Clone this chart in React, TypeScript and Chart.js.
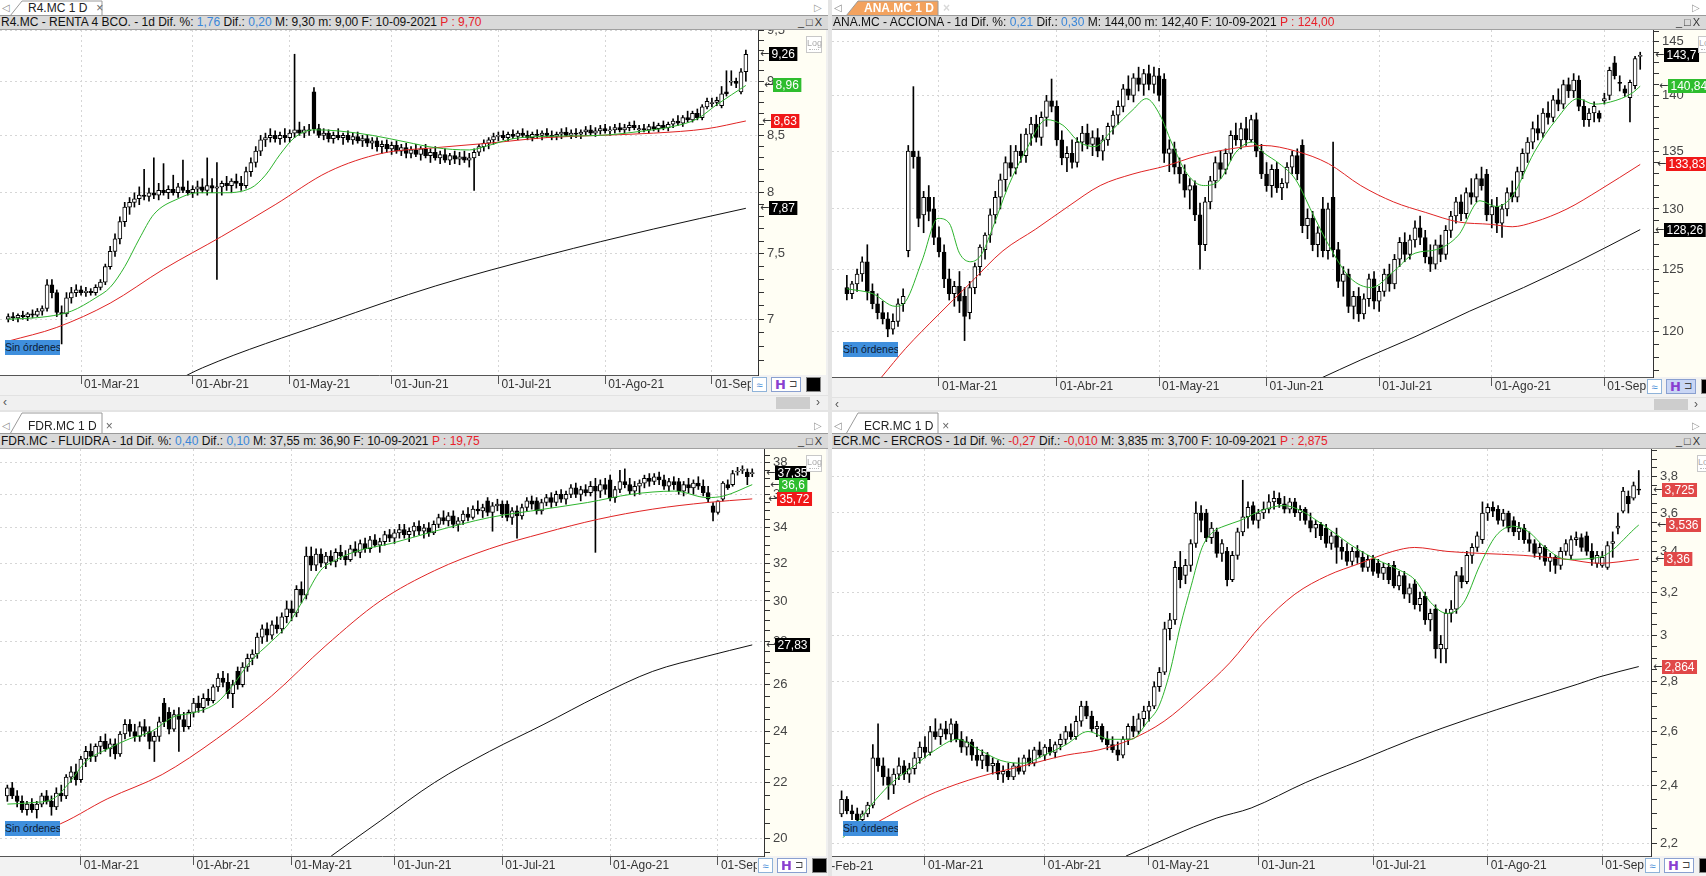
import React, { useEffect, useRef } from "react";
import { Chart, registerables } from "chart.js";
Chart.register(...registerables);

const FONT = '"Liberation Sans", Arial, sans-serif';

// ---------- axis labels ----------
const monthLabels = ["01-Mar-21", "01-Abr-21", "01-May-21", "01-Jun-21", "01-Jul-21", "01-Ago-21", "01-Sep-21"];
const leftMonthIdx = [15, 38, 58, 79, 101, 123, 145];
const anaMonthIdx = [18, 41, 61, 82, 104, 126, 148];
const ecrMonthIdx = [16, 39, 59, 80, 102, 124, 146];

// ---------- R4.MC candles [open, high, low, close] ----------
const r4Candles = [
  [7.00,7.04,6.98,7.02],[7.02,7.05,6.99,7.01],[7.01,7.04,6.98,7.03],[7.03,7.06,7.00,7.02],[7.02,7.05,6.99,7.04],
  [7.04,7.07,7.01,7.03],[7.03,7.08,7.02,7.06],[7.06,7.10,7.03,7.08],[7.08,7.30,7.06,7.26],[7.26,7.30,7.16,7.20],
  [7.20,7.22,7.02,7.05],[7.05,7.10,6.82,7.04],[7.04,7.20,7.02,7.16],[7.16,7.24,7.12,7.20],[7.20,7.26,7.17,7.22],
  [7.22,7.25,7.18,7.20],[7.20,7.24,7.17,7.21],[7.21,7.23,7.18,7.20],[7.20,7.26,7.18,7.24],[7.24,7.30,7.22,7.28],
  [7.28,7.42,7.26,7.40],[7.40,7.56,7.38,7.52],[7.52,7.66,7.48,7.62],[7.62,7.80,7.58,7.76],[7.76,7.92,7.72,7.88],
  [7.88,7.96,7.82,7.92],[7.92,8.00,7.88,7.95],[7.95,8.05,7.90,7.98],[7.98,8.20,7.94,7.97],[7.97,8.04,7.93,8.00],
  [8.00,8.30,7.95,7.98],[7.98,8.08,7.94,8.02],[8.02,8.25,7.98,8.00],[8.00,8.06,7.95,8.03],[8.03,8.15,7.98,8.00],
  [8.00,8.08,7.96,8.05],[8.05,8.28,8.00,8.02],[8.02,8.10,7.98,8.00],[8.00,8.06,7.96,8.03],[8.03,8.10,7.98,8.05],
  [8.05,8.12,8.00,8.02],[8.02,8.30,7.98,8.06],[8.06,8.12,8.00,8.04],[8.04,8.26,7.30,8.05],[8.05,8.10,7.98,8.08],
  [8.08,8.14,8.02,8.06],[8.06,8.12,8.00,8.10],[8.10,8.16,8.04,8.08],[8.08,8.14,8.02,8.06],[8.06,8.22,8.04,8.18],
  [8.18,8.30,8.14,8.26],[8.26,8.40,8.22,8.36],[8.36,8.50,8.32,8.46],[8.46,8.52,8.40,8.48],[8.48,8.56,8.44,8.50],
  [8.50,8.54,8.44,8.47],[8.47,8.53,8.42,8.50],[8.50,8.56,8.44,8.48],[8.48,8.55,8.44,8.52],[8.52,9.26,8.48,8.55],
  [8.55,8.62,8.50,8.52],[8.52,8.58,8.48,8.55],[8.55,8.60,8.50,8.54],[8.90,8.94,8.52,8.56],[8.56,8.60,8.48,8.50],
  [8.50,8.56,8.46,8.52],[8.52,8.55,8.44,8.47],[8.47,8.53,8.43,8.50],[8.50,8.56,8.46,8.48],[8.48,8.52,8.42,8.50],
  [8.50,8.54,8.44,8.46],[8.46,8.52,8.42,8.49],[8.49,8.53,8.43,8.45],[8.45,8.50,8.40,8.47],[8.47,8.50,8.40,8.43],
  [8.43,8.48,8.38,8.45],[8.45,8.48,8.36,8.40],[8.40,8.45,8.34,8.42],[8.42,8.46,8.35,8.38],[8.38,8.44,8.33,8.41],
  [8.41,8.45,8.34,8.36],[8.36,8.42,8.32,8.39],[8.39,8.43,8.30,8.34],[8.34,8.40,8.30,8.37],[8.37,8.42,8.31,8.33],
  [8.33,8.40,8.28,8.38],[8.38,8.42,8.30,8.32],[8.32,8.38,8.26,8.35],[8.35,8.40,8.28,8.30],[8.30,8.36,8.25,8.33],
  [8.33,8.38,8.26,8.28],[8.28,8.34,8.24,8.32],[8.32,8.36,8.25,8.29],[8.29,8.35,8.24,8.31],[8.31,8.36,8.26,8.28],
  [8.28,8.34,8.22,8.30],[8.30,8.38,8.02,8.35],[8.35,8.42,8.32,8.40],[8.40,8.46,8.36,8.43],[8.43,8.48,8.38,8.46],
  [8.46,8.52,8.42,8.49],[8.49,8.53,8.45,8.50],[8.50,8.54,8.46,8.48],[8.48,8.53,8.45,8.51],[8.51,8.55,8.47,8.49],
  [8.49,8.54,8.46,8.52],[8.52,8.56,8.48,8.50],[8.50,8.54,8.46,8.48],[8.48,8.53,8.45,8.51],[8.51,8.55,8.47,8.50],
  [8.50,8.54,8.46,8.52],[8.52,8.56,8.48,8.50],[8.50,8.54,8.46,8.49],[8.49,8.53,8.46,8.51],[8.51,8.56,8.47,8.53],
  [8.53,8.57,8.49,8.50],[8.50,8.55,8.47,8.52],[8.52,8.56,8.48,8.51],[8.51,8.55,8.47,8.53],[8.53,8.58,8.50,8.55],
  [8.55,8.59,8.50,8.52],[8.52,8.57,8.49,8.54],[8.54,8.59,8.51,8.56],[8.56,8.60,8.52,8.54],[8.54,8.58,8.50,8.55],
  [8.55,8.60,8.52,8.57],[8.57,8.61,8.53,8.55],[8.55,8.60,8.52,8.57],[8.57,8.62,8.54,8.59],[8.59,8.63,8.55,8.57],
  [8.55,8.59,8.52,8.56],[8.56,8.60,8.53,8.55],[8.55,8.60,8.52,8.58],[8.58,8.62,8.54,8.56],[8.56,8.61,8.53,8.59],
  [8.59,8.63,8.55,8.57],[8.57,8.62,8.54,8.60],[8.60,8.65,8.57,8.63],[8.63,8.68,8.59,8.61],[8.61,8.68,8.58,8.66],
  [8.66,8.72,8.62,8.64],[8.64,8.72,8.62,8.70],[8.70,8.74,8.64,8.66],[8.66,8.78,8.64,8.76],[8.76,8.84,8.74,8.81],
  [8.79,8.84,8.76,8.80],[8.80,8.85,8.77,8.82],[8.77,8.95,8.75,8.88],[8.90,9.10,8.86,8.88],[8.99,9.10,8.96,9.00],
  [9.00,9.03,8.94,8.98],[8.90,9.12,8.88,9.09],[9.09,9.30,9.00,9.26],
];
const r4Green = [[0,7.0],[8,7.02],[13,7.06],[18,7.16],[21,7.24],[24,7.4],[27,7.62],[30,7.82],[35,7.95],[39,8.0],[44,8.0],[50,8.04],[53,8.15],[56,8.33],[59,8.48],[63,8.55],[68,8.54],[75,8.5],[82,8.44],[88,8.39],[95,8.37],[99,8.41],[104,8.47],[110,8.49],[122,8.5],[131,8.54],[137,8.58],[142,8.65],[146,8.78],[152,8.96]];
const r4Red = [[0,6.84],[10,6.94],[21,7.12],[32,7.38],[44,7.64],[55,7.9],[66,8.18],[77,8.34],[88,8.39],[99,8.43],[111,8.48],[122,8.5],[133,8.52],[144,8.56],[152,8.63]];
const r4Black = [[34,6.55],[40,6.65],[66,6.98],[88,7.25],[111,7.49],[133,7.7],[152,7.87]];

// ---------- ANA.MC ----------
const anaCandles = [
  [123.5,124.5,122.5,123.0],[123.0,124.0,122.6,123.8],[123.8,125.0,123.2,124.6],[124.6,126.0,124.0,125.6],[125.6,127.0,122.5,123.2],
  [123.2,123.8,121.8,122.2],[122.2,123.0,121.0,121.5],[121.5,122.4,120.6,121.0],[121.0,121.5,119.6,120.2],[120.2,121.4,119.8,120.8],
  [120.8,122.6,120.4,122.2],[122.2,123.4,121.6,122.8],[126.5,135.5,126.0,135.0],[135.0,140.8,133.5,134.5],[134.5,135.0,128.5,129.2],
  [129.5,131.5,128.0,131.0],[131.0,132.0,129.0,129.8],[130.0,131.0,127.0,127.6],[127.6,128.5,126.0,126.4],[126.4,127.0,123.5,124.2],
  [124.2,125.0,122.5,123.0],[123.0,124.0,122.0,123.6],[123.6,124.8,121.5,122.4],[122.8,123.5,119.3,121.2],[121.5,124.0,121.0,123.5],
  [123.5,125.5,123.0,125.2],[125.2,127.0,124.5,126.8],[126.6,128.0,125.8,127.8],[127.8,130.0,127.2,129.5],[129.5,131.5,128.8,131.0],
  [131.0,133.0,130.0,132.5],[132.5,134.5,131.5,134.0],[134.0,135.5,132.8,133.5],[133.5,135.5,133.0,135.0],[135.0,136.5,134.0,134.6],
  [134.6,137.0,134.0,136.5],[136.5,138.0,135.5,137.4],[137.4,138.2,135.8,136.2],[136.2,138.5,135.5,138.0],[138.0,140.0,137.2,139.5],
  [139.5,141.5,138.5,139.0],[139.0,139.5,135.5,136.0],[136.0,136.8,133.8,134.4],[134.4,135.4,133.2,134.8],[134.8,136.0,133.5,134.0],
  [134.0,136.2,133.6,135.8],[135.8,137.2,135.0,136.6],[136.6,137.4,135.2,135.6],[135.6,136.8,134.6,136.2],[136.2,137.0,134.5,135.0],
  [135.0,136.4,134.2,136.0],[136.0,137.5,135.5,137.2],[137.2,138.6,136.5,138.2],[138.2,139.5,137.4,139.0],[139.0,141.0,138.5,140.6],
  [140.6,141.8,139.6,140.0],[140.0,142.0,139.4,141.6],[141.6,142.6,140.4,141.0],[141.0,142.4,140.0,142.0],[142.0,142.8,140.5,141.0],
  [141.0,142.6,140.2,141.8],[141.8,142.5,139.5,140.0],[141.5,142.0,134.0,134.8],[134.8,136.0,133.2,135.2],[135.2,135.8,133.0,133.6],
  [133.6,134.4,132.2,133.0],[133.0,133.8,131.0,131.6],[131.6,132.6,130.0,132.0],[132.0,132.4,129.0,129.5],[129.5,130.5,125.0,127.0],
  [127.0,131.0,126.5,130.6],[130.6,132.8,130.0,132.4],[132.4,134.5,131.8,134.0],[134.0,135.0,132.6,133.4],[133.4,135.2,133.0,134.8],
  [134.8,136.8,134.2,136.4],[136.4,137.5,135.5,136.0],[136.0,137.5,135.2,137.0],[137.0,138.0,135.5,136.0],[136.0,138.2,135.8,137.8],
  [137.8,138.4,134.5,135.0],[135.0,135.6,132.6,133.0],[133.0,134.0,131.5,132.0],[132.0,133.8,131.0,133.4],[133.4,134.0,131.4,131.8],
  [131.8,132.6,130.8,132.2],[132.2,134.0,131.8,133.6],[133.6,135.0,133.0,134.6],[134.6,135.2,132.5,133.0],[135.5,136.0,128.0,128.6],
  [128.6,130.0,127.5,129.2],[129.2,129.8,126.5,127.0],[127.0,128.5,126.0,128.0],[130.0,131.0,126.0,126.5],[126.5,130.5,125.8,130.0],
  [131.0,135.8,126.0,126.6],[126.6,127.2,123.5,124.0],[124.0,125.2,122.8,124.6],[124.6,125.0,121.5,122.0],[122.0,123.2,121.0,122.8],
  [122.8,123.5,120.8,121.4],[121.4,123.0,121.0,122.6],[122.6,124.6,122.0,124.2],[124.2,124.8,121.8,122.4],[122.4,123.6,121.6,123.2],
  [123.2,125.0,122.8,124.6],[124.6,125.4,123.2,123.8],[123.8,126.2,123.4,125.8],[125.8,127.6,125.2,127.2],[127.2,128.0,125.6,126.2],
  [126.2,127.8,125.8,127.4],[127.4,129.0,126.8,128.4],[128.4,129.4,127.0,127.6],[127.6,128.2,125.5,126.0],[126.0,127.0,124.8,125.4],
  [125.4,127.4,125.0,127.0],[127.0,127.8,125.6,126.2],[126.2,128.6,125.8,128.2],[128.2,129.8,127.6,129.4],[129.4,131.0,128.8,130.6],
  [130.6,131.2,129.0,129.6],[129.6,131.8,129.2,131.4],[131.4,132.6,130.4,131.0],[131.0,133.0,130.6,132.6],[132.6,133.6,131.6,132.0],
  [133.0,133.4,129.0,129.5],[129.5,130.8,128.4,130.2],[130.2,131.0,128.0,128.8],[128.8,130.4,127.6,130.0],[130.0,131.8,129.4,131.4],
  [131.4,132.4,130.6,131.0],[131.0,133.6,130.6,133.2],[133.2,135.2,132.6,134.8],[134.8,136.2,134.0,135.8],[135.8,137.6,135.2,137.0],
  [137.0,138.2,136.0,136.6],[136.6,138.8,136.2,138.4],[138.4,139.4,137.4,138.0],[138.0,140.0,137.6,139.6],[139.6,140.6,138.6,139.2],
  [139.2,141.4,138.8,141.0],[141.0,141.6,139.8,140.4],[140.4,142.0,139.8,141.4],[141.4,141.8,138.6,139.0],[139.0,139.6,137.2,137.8],
  [137.8,138.8,137.2,138.4],[138.4,139.4,137.6,139.0],[138.4,138.6,137.6,137.9],[139.5,140.2,139.2,139.7],[140.0,142.6,139.6,142.3],
  [143.0,143.6,141.5,141.8],[141.2,141.8,140.4,141.1],[140.6,140.9,139.9,140.2],[139.8,141.4,137.6,141.2],[140.9,143.6,140.6,143.4],
  [143.6,144.0,142.4,143.7],
];
const anaGreen = [[0,123.4],[5.1,123.0],[9.4,122.0],[11.5,122.4],[14.7,125.7],[17.8,129.2],[20,128.8],[22,126.3],[24.2,125.6],[26.3,126.2],[28.4,128.3],[31.6,132.0],[34.8,134.9],[39,137.8],[42.2,137.3],[45.4,135.8],[48.5,135.4],[51.7,136.8],[55.9,138.7],[58.5,139.7],[61.2,138.2],[63.4,135.8],[66.5,133.0],[69.7,132.0],[72.9,132.5],[76,134.9],[79.2,135.8],[81.3,134.9],[84.5,133.9],[87.7,132.5],[90.9,129.7],[94.1,127.0],[98.3,124.3],[102.5,123.5],[106.8,124.8],[111,126.3],[115.2,126.6],[119.5,127.8],[123.7,130.7],[126.9,130.2],[130,131.1],[134.3,134.9],[138.6,137.8],[142.8,139.7],[146,139.2],[149.2,139.4],[153.4,140.2],[155,140.84]];
const anaRed = [[6.8,116.5],[11.5,118.7],[17.8,121.3],[24.2,123.9],[30.5,126.5],[36.9,128.3],[43.2,130.2],[49.5,132.0],[55.9,133.0],[62.3,133.7],[68.6,134.6],[75,135.2],[81.3,135.5],[87.7,135.0],[94.1,133.9],[100.4,132.0],[106.8,130.6],[113.1,129.7],[119.5,128.9],[125.8,128.7],[130,128.5],[134.3,128.9],[140.7,130.0],[147,131.6],[155,133.83]];
const anaBlack = [[92,116.3],[100.4,117.8],[111,119.6],[121.6,121.6],[132.2,123.5],[142.8,125.6],[155,128.26]];

// ---------- FDR.MC ----------
const fdrCandles = [
  [21.5,21.9,21.3,21.8],[21.8,22.0,21.4,21.5],[21.5,21.7,21.1,21.3],[21.3,21.5,20.9,21.0],[21.0,21.3,20.8,21.2],
  [21.2,21.4,20.9,21.0],[21.0,21.3,20.7,21.2],[21.2,21.6,21.1,21.5],[21.5,21.7,21.2,21.3],[21.3,21.5,20.8,21.1],
  [21.1,21.8,21.0,21.6],[21.6,21.9,21.3,21.5],[21.5,22.3,21.4,22.2],[22.2,22.6,22.0,22.4],[22.4,22.7,21.9,22.1],
  [22.1,23.0,22.0,22.9],[22.9,23.4,22.6,23.2],[23.2,23.5,22.8,23.0],[23.0,23.5,22.8,23.4],[23.4,23.8,23.1,23.6],
  [23.6,23.9,23.2,23.3],[23.3,23.7,23.0,23.5],[23.5,23.7,22.9,23.1],[23.1,24.0,23.0,23.9],[23.9,24.5,23.7,24.3],
  [24.3,24.5,23.8,24.0],[24.0,24.3,23.6,23.8],[23.8,24.4,23.6,24.2],[24.2,24.5,23.8,24.0],[24.0,24.2,23.3,23.6],
  [23.6,24.0,22.8,23.8],[23.8,24.6,23.6,24.4],[25.2,25.4,24.2,24.4],[24.8,25.0,23.9,24.1],[24.1,24.9,24.0,24.7],
  [24.7,25.0,23.2,24.5],[24.5,24.8,24.0,24.2],[24.2,24.9,24.1,24.8],[24.8,25.4,24.6,25.2],[25.2,25.5,24.8,25.0],
  [25.0,25.6,24.8,25.4],[25.4,25.8,25.1,25.3],[25.3,26.0,25.2,25.9],[25.9,26.5,25.7,26.3],[26.3,26.6,25.9,26.1],
  [26.1,26.5,25.4,25.6],[25.6,26.2,25.0,26.0],[26.6,26.8,25.8,26.0],[26.0,27.0,25.9,26.8],[26.8,27.4,26.6,27.2],
  [27.2,27.6,26.9,27.4],[27.4,28.4,27.2,28.2],[28.2,28.8,27.9,28.6],[28.6,28.9,28.0,28.3],[28.3,29.0,28.1,28.8],
  [28.8,29.2,28.4,28.6],[28.6,29.4,28.4,29.2],[29.2,30.0,28.9,29.6],[29.6,30.0,29.0,29.4],[29.4,30.8,29.2,30.6],
  [30.6,31.0,29.9,30.3],[30.3,32.9,30.1,32.4],[32.4,32.9,31.6,31.9],[31.9,32.8,31.6,32.5],[32.5,32.8,31.8,32.0],
  [32.0,32.6,31.7,32.4],[32.4,32.7,31.9,32.1],[32.1,32.8,31.8,32.6],[32.6,33.0,32.2,32.4],[32.4,32.7,31.9,32.2],
  [32.2,33.0,32.1,32.8],[32.8,33.2,32.4,32.6],[32.6,33.3,32.3,33.1],[33.1,33.4,32.6,32.8],[32.8,33.5,32.6,33.3],
  [33.3,33.6,32.9,33.0],[33.0,33.4,32.6,33.2],[33.2,33.8,33.0,33.6],[33.6,33.9,33.2,33.4],[33.4,33.9,33.1,33.7],
  [33.7,34.2,33.4,33.9],[33.9,34.2,33.4,33.6],[33.6,34.0,33.2,33.8],[33.8,34.3,33.5,34.1],[34.1,34.4,33.6,33.8],
  [33.8,34.2,33.4,34.0],[34.0,34.3,33.5,33.7],[33.7,34.4,33.6,34.2],[34.2,34.8,34.0,34.6],[34.6,35.0,34.2,34.4],
  [34.4,34.9,34.1,34.7],[34.7,35.0,34.0,34.2],[34.2,34.6,33.8,34.4],[34.4,35.0,34.2,34.8],[34.8,35.2,34.4,34.6],
  [34.6,35.3,34.5,35.1],[35.1,35.6,34.8,35.0],[35.0,35.4,34.6,35.2],[35.6,35.8,34.7,34.9],[34.9,35.5,33.8,35.3],
  [35.3,35.7,35.0,35.4],[35.4,35.6,34.6,34.8],[35.4,35.6,34.4,34.6],[34.6,35.2,34.2,35.0],[35.0,35.3,33.4,34.7],
  [34.7,35.4,34.5,35.2],[35.2,35.8,35.0,35.6],[35.6,35.9,35.1,35.4],[35.6,35.8,34.8,35.0],[35.0,35.7,34.8,35.5],
  [35.5,36.0,35.3,35.8],[35.8,36.1,35.2,35.5],[35.5,36.2,35.3,36.0],[36.0,36.3,35.5,35.7],[35.7,36.2,35.4,36.0],
  [36.0,36.6,35.8,36.4],[36.4,36.7,35.8,36.0],[36.0,36.5,35.6,36.3],[36.3,36.6,35.9,36.1],[36.1,36.8,35.9,36.5],
  [36.5,37.0,32.6,36.2],[36.2,36.9,35.8,36.6],[36.6,37.0,36.0,36.3],[36.9,37.2,35.6,35.8],[35.8,36.5,35.5,36.3],
  [36.3,37.5,36.1,36.8],[36.8,37.6,36.4,36.6],[36.6,37.0,36.0,36.2],[36.2,36.8,35.9,36.5],[36.5,36.9,36.0,36.7],
  [36.7,37.2,36.4,37.0],[37.0,37.3,36.5,36.8],[36.8,37.3,36.6,37.1],[37.1,37.4,36.6,36.9],[36.9,37.2,36.3,36.5],
  [36.5,37.0,36.2,36.8],[36.8,37.1,36.3,36.6],[36.8,37.0,36.0,36.2],[36.2,36.8,35.9,36.6],[36.6,37.0,36.1,36.4],
  [36.4,36.9,36.0,36.7],[36.7,37.1,36.3,36.5],[36.5,36.9,35.9,36.1],[36.1,36.5,35.5,35.7],[35.3,35.5,34.4,34.9],
  [34.9,35.6,34.8,35.6],[35.7,36.8,35.6,36.7],[36.6,36.9,36.3,36.4],[36.6,37.5,36.5,37.3],[37.4,37.7,37.2,37.4],
  [37.5,37.8,37.3,37.5],[37.4,37.6,36.6,37.1],[37.3,37.6,37.1,37.35],
];
const fdrGreen = [[0,21.2],[4.9,21.25],[9.4,21.4],[12.7,22.0],[16,22.8],[20.5,23.3],[24.9,23.7],[29.4,24.0],[33.8,24.6],[38.3,24.8],[42.7,25.2],[46.1,26.0],[49.4,27.0],[53.9,28.0],[57.2,28.8],[60.5,30.1],[63.9,31.6],[67.2,32.2],[71.7,32.7],[78.3,33.1],[87.2,33.8],[98.4,34.6],[109.5,35.1],[118.4,35.5],[127.3,36.0],[136.2,36.2],[142.8,35.8],[146.2,35.9],[152,36.6]];
const fdrRed = [[0,20.1],[9.4,20.4],[20.5,21.4],[31.6,22.3],[42.7,23.7],[53.9,25.5],[65,27.8],[76.1,30.0],[87.2,31.6],[98.4,32.8],[109.5,33.7],[120.6,34.5],[131.7,35.1],[142.8,35.5],[152,35.72]];
const fdrBlack = [[62.8,19.0],[66.1,19.4],[76.1,20.6],[87.2,22.0],[98.4,23.2],[109.5,24.3],[120.6,25.5],[131.7,26.6],[142.8,27.3],[152,27.83]];

// ---------- ECR.MC ----------
const ecrCandles = [
  [2.30,2.38,2.29,2.35],[2.35,2.36,2.30,2.31],[2.31,2.33,2.28,2.30],[2.30,2.32,2.26,2.28],[2.28,2.31,2.27,2.30],
  [2.30,2.34,2.29,2.33],[2.33,2.55,2.32,2.50],[2.50,2.63,2.45,2.47],[2.47,2.50,2.40,2.43],[2.43,2.46,2.35,2.40],
  [2.40,2.46,2.37,2.44],[2.44,2.50,2.42,2.47],[2.47,2.49,2.42,2.44],[2.44,2.48,2.41,2.46],[2.46,2.52,2.44,2.50],
  [2.50,2.56,2.48,2.54],[2.54,2.58,2.50,2.52],[2.52,2.62,2.51,2.60],[2.60,2.65,2.57,2.58],[2.58,2.63,2.55,2.61],
  [2.61,2.64,2.57,2.59],[2.59,2.65,2.56,2.63],[2.63,2.64,2.56,2.57],[2.57,2.60,2.52,2.54],[2.54,2.58,2.51,2.56],
  [2.56,2.57,2.49,2.51],[2.51,2.54,2.47,2.49],[2.49,2.53,2.46,2.51],[2.51,2.52,2.45,2.47],[2.47,2.50,2.44,2.48],
  [2.48,2.49,2.42,2.44],[2.44,2.47,2.41,2.45],[2.45,2.48,2.42,2.43],[2.43,2.48,2.42,2.47],[2.47,2.50,2.44,2.45],
  [2.45,2.51,2.44,2.50],[2.50,2.53,2.47,2.48],[2.48,2.54,2.47,2.53],[2.53,2.56,2.50,2.51],[2.51,2.55,2.49,2.54],
  [2.54,2.57,2.51,2.52],[2.52,2.56,2.50,2.55],[2.55,2.59,2.53,2.57],[2.57,2.62,2.55,2.60],[2.60,2.63,2.57,2.58],
  [2.58,2.66,2.57,2.64],[2.64,2.72,2.62,2.70],[2.70,2.72,2.65,2.66],[2.66,2.68,2.60,2.61],[2.61,2.64,2.58,2.62],
  [2.62,2.63,2.56,2.57],[2.57,2.60,2.53,2.55],[2.55,2.58,2.52,2.53],[2.53,2.56,2.49,2.51],[2.51,2.58,2.50,2.57],
  [2.57,2.63,2.55,2.62],[2.62,2.66,2.58,2.60],[2.60,2.67,2.59,2.65],[2.65,2.70,2.62,2.68],[2.68,2.72,2.64,2.70],
  [2.70,2.80,2.69,2.78],[2.78,2.86,2.76,2.84],[2.84,3.06,2.83,3.03],[3.03,3.10,2.98,3.07],[3.07,3.35,3.05,3.32],
  [3.32,3.40,3.22,3.26],[3.28,3.36,3.24,3.33],[3.33,3.46,3.30,3.44],[3.44,3.66,3.42,3.60],[3.60,3.64,3.50,3.56],
  [3.60,3.62,3.45,3.47],[3.47,3.55,3.44,3.52],[3.50,3.52,3.37,3.39],[3.39,3.46,3.35,3.44],[3.40,3.42,3.23,3.26],
  [3.26,3.40,3.25,3.38],[3.38,3.52,3.36,3.50],[3.50,3.78,3.48,3.58],[3.58,3.66,3.52,3.63],[3.64,3.66,3.54,3.56],
  [3.56,3.62,3.52,3.60],[3.60,3.66,3.57,3.62],[3.62,3.70,3.60,3.66],[3.66,3.72,3.62,3.68],[3.68,3.71,3.63,3.65],
  [3.65,3.69,3.60,3.62],[3.62,3.68,3.60,3.66],[3.66,3.68,3.58,3.60],[3.60,3.64,3.56,3.62],[3.62,3.63,3.54,3.56],
  [3.56,3.60,3.50,3.52],[3.52,3.56,3.47,3.54],[3.54,3.55,3.46,3.48],[3.52,3.54,3.42,3.44],[3.44,3.50,3.41,3.48],
  [3.48,3.52,3.34,3.42],[3.42,3.46,3.36,3.40],[3.40,3.44,3.33,3.35],[3.35,3.42,3.33,3.40],[3.40,3.43,3.34,3.37],
  [3.37,3.40,3.30,3.32],[3.32,3.38,3.30,3.36],[3.36,3.38,3.28,3.30],[3.34,3.36,3.27,3.29],[3.29,3.34,3.26,3.32],
  [3.32,3.34,3.24,3.26],[3.33,3.35,3.22,3.23],[3.23,3.30,3.21,3.28],[3.28,3.30,3.17,3.19],[3.19,3.24,3.15,3.22],
  [3.24,3.26,3.12,3.14],[3.14,3.20,3.11,3.17],[3.18,3.20,3.05,3.07],[3.07,3.12,3.02,3.10],[3.12,3.14,2.90,2.94],
  [2.94,3.00,2.88,2.96],[2.94,3.12,2.88,3.10],[3.10,3.16,3.06,3.12],[3.12,3.30,3.10,3.28],[3.28,3.32,3.22,3.25],
  [3.25,3.40,3.24,3.38],[3.38,3.44,3.34,3.42],[3.42,3.50,3.40,3.48],[3.46,3.66,3.44,3.60],[3.60,3.65,3.56,3.63],
  [3.63,3.66,3.58,3.61],[3.62,3.64,3.54,3.56],[3.56,3.62,3.53,3.60],[3.60,3.61,3.50,3.52],[3.56,3.58,3.48,3.50],
  [3.50,3.55,3.46,3.52],[3.52,3.54,3.44,3.46],[3.46,3.50,3.40,3.44],[3.44,3.46,3.37,3.39],[3.39,3.44,3.36,3.42],
  [3.42,3.43,3.33,3.35],[3.35,3.39,3.30,3.37],[3.37,3.38,3.29,3.33],[3.33,3.42,3.31,3.40],[3.40,3.46,3.38,3.44],
  [3.38,3.48,3.36,3.46],[3.46,3.50,3.43,3.47],[3.47,3.49,3.40,3.42],[3.48,3.50,3.38,3.40],[3.40,3.44,3.33,3.36],
  [3.34,3.40,3.32,3.38],[3.33,3.40,3.32,3.37],[3.32,3.45,3.31,3.43],[3.44,3.50,3.37,3.45],[3.52,3.60,3.49,3.53],
  [3.61,3.74,3.60,3.72],[3.69,3.72,3.60,3.65],[3.68,3.77,3.67,3.75],[3.73,3.835,3.70,3.725],
];
const ecrGreen = [[0.3,2.22],[3.4,2.28],[6.6,2.35],[9.7,2.41],[13.9,2.47],[18,2.53],[22.2,2.57],[26.4,2.53],[30.6,2.49],[34.8,2.48],[38.9,2.51],[43.1,2.55],[47.3,2.6],[51.5,2.57],[55.6,2.57],[58.8,2.64],[60.9,2.7],[63,2.84],[65,3.04],[67.1,3.23],[69.2,3.42],[71.3,3.5],[73.4,3.53],[76.5,3.56],[80.7,3.615],[84.9,3.64],[88,3.615],[91.2,3.56],[94.3,3.5],[98.5,3.42],[102.6,3.36],[106.8,3.31],[110,3.26],[113.1,3.15],[116.2,3.1],[119.4,3.15],[122.5,3.33],[125.6,3.48],[128.8,3.53],[131.9,3.5],[135,3.42],[139.2,3.36],[145.4,3.37],[153,3.536]];
const ecrRed = [[0.3,2.226],[5.5,2.26],[11.8,2.32],[18,2.375],[26.4,2.43],[34.8,2.47],[43.1,2.51],[49.4,2.53],[55.6,2.57],[61.9,2.64],[68.2,2.75],[74.5,2.88],[80.7,3.05],[87,3.19],[93.3,3.28],[99.5,3.34],[105.8,3.4],[110,3.42],[116.2,3.4],[122.5,3.39],[130.8,3.38],[139.2,3.36],[145.4,3.34],[153,3.36]];
const ecrBlack = [[54.6,2.16],[71.9,2.285],[78.6,2.32],[89.1,2.41],[99.5,2.49],[110,2.574],[120.5,2.65],[130.8,2.72],[141.3,2.79],[145.4,2.82],[153,2.864]];

// ---------- panel descriptions ----------
const BLUE = "#3a86d8";
const RED = "#e8212a";

const panels = [
  {
    key: "r4", left: 0, top: 0, width: 828, height: 410, tabH: 16, titleH: 14,
    tab: "R4.MC 1 D", active: false, tabX: 10,
    title: [["R4.MC - RENTA 4 BCO. - 1d  Dif. %: ", "#111"], ["1,76", BLUE], [" Dif.: ", "#111"], ["0,20", BLUE], [" M: 9,30  m: 9,00  F: 10-09-2021  ", "#111"], ["P : 9,70", RED]],
    canvasW: 826, canvasH: 365, axisW: 68, xAxisH: 20,
    candles: r4Candles, green: r4Green, red: r4Red, black: r4Black,
    yMin: 6.63, yMax: 9.5, yMajor: 0.5, yMinor: 0.1, xMin: -1.7, xMax: 154.5, months: leftMonthIdx,
    badges: [[9.26, "9,26", "#000", 0], [8.96, "8,96", "#2ebd2e", 4], [8.63, "8,63", "#f01818", 2], [7.87, "7,87", "#000", 0]],
    logX: 48, sinX: 5, scroll: true,
  },
  {
    key: "ana", left: 832, top: 0, width: 874, height: 410, tabH: 16, titleH: 14,
    tab: "ANA.MC 1 D", active: true, tabX: 14,
    title: [["ANA.MC - ACCIONA - 1d  Dif. %: ", "#111"], ["0,21", BLUE], [" Dif.: ", "#111"], ["0,30", BLUE], [" M: 144,00  m: 142,40  F: 10-09-2021  ", "#111"], ["P : 124,00", RED]],
    canvasW: 874, canvasH: 367, axisW: 53, xAxisH: 20,
    candles: anaCandles, green: anaGreen, red: anaRed, black: anaBlack,
    yMin: 116.5, yMax: 146.1, yMajor: 5, yMinor: 1, xMin: -2.9, xMax: 157.5, months: anaMonthIdx,
    badges: [[143.7, "143,7", "#000", 0], [140.84, "140,84", "#2ebd2e", 4], [133.83, "133,83", "#f01818", 2], [128.26, "128,26", "#000", 0]],
    logX: 45, sinX: 11, scroll: true,
  },
  {
    key: "fdr", left: 0, top: 412, width: 828, height: 464, tabH: 22, titleH: 15,
    tab: "FDR.MC 1 D", active: false, tabX: 10,
    title: [["FDR.MC - FLUIDRA - 1d  Dif. %: ", "#111"], ["0,40", BLUE], [" Dif.: ", "#111"], ["0,10", BLUE], [" M: 37,55  m: 36,90  F: 10-09-2021  ", "#111"], ["P : 19,75", RED]],
    canvasW: 826, canvasH: 427, axisW: 62, xAxisH: 20,
    candles: fdrCandles, green: fdrGreen, red: fdrRed, black: fdrBlack,
    yMin: 19.4, yMax: 38.9, yMajor: 2, yMinor: 0.5, xMin: -1.5, xMax: 154.4, months: leftMonthIdx,
    badges: [[37.35, "37,35", "#000", 0], [36.6, "36,6", "#2ebd2e", 4], [35.72, "35,72", "#f01818", 2], [27.83, "27,83", "#000", 0]],
    logX: 42, sinX: 5, scroll: false,
  },
  {
    key: "ecr", left: 832, top: 412, width: 874, height: 464, tabH: 22, titleH: 15,
    tab: "ECR.MC 1 D", active: false, tabX: 14,
    title: [["ECR.MC - ERCROS - 1d  Dif. %: ", "#111"], ["-0,27", RED], [" Dif.: ", "#111"], ["-0,010", RED], [" M: 3,835  m: 3,700  F: 10-09-2021  ", "#111"], ["P : 2,875", RED]],
    canvasW: 874, canvasH: 427, axisW: 55, xAxisH: 20,
    candles: ecrCandles, green: ecrGreen, red: ecrRed, black: ecrBlack,
    yMin: 2.16, yMax: 3.96, yMajor: 0.2, yMinor: 0.05, xMin: -1.84, xMax: 155.35, months: ecrMonthIdx,
    badges: [[3.725, "3,725", "#e04848", 0], [3.536, "3,536", "#e04848", 4], [3.36, "3,36", "#e04848", 2], [2.864, "2,864", "#e04848", 0]],
    logX: 46, sinX: 11, scroll: false, febLabelX: -14,
  },
];

const fmtNum = (v: number) => String(Number(v.toFixed(3))).replace(".", ",");
const isMult = (v: number, step: number) => Math.abs(v / step - Math.round(v / step)) < 1e-6;

const decoPlugin = {
  id: "deco",
  beforeDraw(chart: any) {
    const { ctx, chartArea: ca, width, height } = chart;
    ctx.save();
    ctx.fillStyle = "#ffffff";
    ctx.fillRect(ca.left, ca.top, ca.right - ca.left, ca.bottom - ca.top);
    ctx.fillStyle = "#fffef4";
    ctx.fillRect(ca.right, 0, width - ca.right, ca.bottom);
    ctx.fillStyle = "#f2f2f2";
    ctx.fillRect(0, ca.bottom, width, height - ca.bottom);
    ctx.restore();
  },
  afterDraw(chart: any, _args: any, opts: any) {
    const { ctx, chartArea: ca } = chart;
    const ys = chart.scales.y;
    ctx.save();
    ctx.textBaseline = "middle";
    (opts.badges || []).forEach((b: any) => {
      const [v, label, bg, dx] = b;
      const y = Math.round(ys.getPixelForValue(v));
      ctx.font = `11px "DejaVu Sans", sans-serif`;
      ctx.fillStyle = "#333";
      ctx.fillText("\u2190", ca.right + 2 + dx, y);
      ctx.font = `12px ${FONT}`;
      const tw = ctx.measureText(label).width;
      const bx = ca.right + 11 + dx;
      ctx.fillStyle = bg;
      ctx.fillRect(bx, y - 7, tw + 5, 14);
      ctx.fillStyle = "#fff";
      ctx.fillText(label, bx + 2.5, y + 0.5);
    });
    ctx.restore();
  },
};

function ChartCanvas({ p }: { p: any }) {
  const ref = useRef<HTMLCanvasElement | null>(null);
  useEffect(() => {
    if (!ref.current) return;
    const candles = p.candles as number[][];
    const wicks = candles.map((c, i) => ({ x: i, y: [c[2], c[1]] }));
    const bodies = candles.map((c, i) => ({ x: i, y: [c[0], c[3]] }));
    const bodyFill = candles.map((c) => (c[3] >= c[0] ? "#ffffff" : "#000000"));
    const line = (pts: number[][], color: string) => ({
      type: "line",
      data: pts.map(([x, y]) => ({ x, y })),
      borderColor: color,
      borderWidth: 1,
      pointRadius: 0,
      cubicInterpolationMode: "monotone",
      order: 0,
    });
    const chart = new Chart(ref.current, {
      type: "bar",
      data: {
        datasets: [
          line(p.green, "#2db42d"),
          line(p.red, "#e02424"),
          line(p.black, "#111111"),
          {
            type: "bar", data: bodies, backgroundColor: bodyFill, borderColor: "#000", borderWidth: 1,
            borderSkipped: false, barThickness: 4, minBarLength: 1, grouped: false, order: 1,
          },
          {
            type: "bar", data: wicks, backgroundColor: "#000", borderWidth: 0,
            barThickness: 1, grouped: false, order: 2,
          },
        ] as any,
      },
      options: {
        responsive: false,
        maintainAspectRatio: false,
        animation: false,
        events: [],
        devicePixelRatio: 1,
        layout: { padding: 0, autoPadding: false },
        plugins: {
          legend: { display: false },
          tooltip: { enabled: false },
          deco: { badges: p.badges },
        } as any,
        scales: {
          x: {
            type: "linear",
            min: p.xMin,
            max: p.xMax,
            offset: false,
            afterBuildTicks: (s: any) => { s.ticks = p.months.map((v: number) => ({ value: v })); },
            afterFit: (s: any) => { s.height = p.xAxisH; s.paddingLeft = 0; s.paddingRight = 0; },
            ticks: {
              autoSkip: false, maxRotation: 0, align: "start", labelOffset: 3, padding: -7,
              color: "#333", font: { family: FONT, size: 12 },
              callback: (_v: any, i: number) => monthLabels[i],
            },
            grid: { color: "#d6d6d6", tickColor: "#555", tickLength: 9, offset: false, tickBorderDash: [] },
            border: { color: "#555", dash: [2, 3] },
          },
          y: {
            type: "logarithmic",
            position: "right",
            min: p.yMin,
            max: p.yMax,
            afterBuildTicks: (s: any) => {
              const t = [];
              const k0 = Math.ceil(p.yMin / p.yMinor - 1e-9);
              for (let k = k0; k * p.yMinor <= p.yMax + 1e-9; k++) t.push({ value: Number((k * p.yMinor).toFixed(4)) });
              s.ticks = t;
            },
            afterFit: (s: any) => { s.width = p.axisW; s.paddingTop = 0; s.paddingBottom = 0; },
            ticks: {
              autoSkip: false, padding: 3, color: "#444", font: { family: FONT, size: 13 },
              callback: (v: any) => (isMult(Number(v), p.yMajor) ? fmtNum(Number(v)) : ""),
            },
            grid: {
              color: (c: any) => (c.tick && isMult(c.tick.value, p.yMajor) ? "#d6d6d6" : "rgba(0,0,0,0)"),
              tickColor: "#333", tickLength: 6, tickBorderDash: [],
            },
            border: { color: "#333", dash: [2, 3] },
          },
        },
      } as any,
      plugins: [decoPlugin],
    });
    return () => chart.destroy();
  }, []);
  return <canvas ref={ref} width={p.canvasW} height={p.canvasH} style={{ display: "block", width: p.canvasW, height: p.canvasH }} />;
}

function Panel({ p }: { p: any }) {
  const chartTop = p.tabH + p.titleH;
  const plotRight = p.canvasW - p.axisW;
  const plotBottom = p.canvasH - p.xAxisH;
  const tabW = 92;
  return (
    <div style={{ position: "absolute", left: p.left, top: p.top, width: p.width, height: p.height, overflow: "hidden", background: "#f0f0f0" }}>
      {/* tab bar */}
      <div style={{ position: "absolute", left: 0, top: 0, width: p.width, height: p.tabH, background: "#ffffff" }}>
        <div style={{ position: "absolute", left: 2, top: p.tabH - 14, fontSize: 10, color: "#888" }}>{"\u25C1"}</div>
        <svg style={{ position: "absolute", left: p.tabX, top: 0 }} width={tabW + 2} height={p.tabH}>
          <polygon points={`0,${p.tabH} 12,1 ${tabW},1 ${tabW},${p.tabH}`} fill={p.active ? "#f3a25e" : "#ffffff"} stroke="#9a9a9a" strokeWidth={1} />
        </svg>
        <div style={{ position: "absolute", left: p.tabX + 18, top: p.tabH - 14, fontSize: 12, lineHeight: "13px", color: p.active ? "#ffffff" : "#222", fontWeight: p.active ? 700 : 400, fontFamily: FONT, whiteSpace: "nowrap" }}>
          {p.tab}
          <span style={{ marginLeft: 9, color: p.active ? "#d8d8d8" : "#666" }}>{"\u00D7"}</span>
        </div>
        <div style={{ position: "absolute", left: p.width - 14, top: p.tabH - 14, fontSize: 10, color: "#999" }}>{"\u25B7"}</div>
        <div style={{ position: "absolute", left: 0, top: p.tabH - 1, width: p.width, height: 1, background: "#9a9a9a" }} />
      </div>
      {/* title bar */}
      <div style={{ position: "absolute", left: 0, top: p.tabH, width: p.width, height: p.titleH, background: "#d9d9d9", borderBottom: "1px solid #a0a0a0", boxSizing: "border-box", fontFamily: FONT, fontSize: 12, lineHeight: `${p.titleH - 1}px`, whiteSpace: "nowrap" }}>
        <span style={{ paddingLeft: 1 }}>
          {p.title.map((s: any, i: number) => (
            <span key={i} style={{ color: s[1] }}>{s[0]}</span>
          ))}
        </span>
        <span style={{ position: "absolute", right: 4, top: 0, color: "#333", fontSize: 11, letterSpacing: 2 }}>_{"\u25A1"}X</span>
      </div>
      {/* chart */}
      <div style={{ position: "absolute", left: 0, top: chartTop }}>
        <ChartCanvas p={p} />
        {/* Log box */}
        <div style={{ position: "absolute", left: plotRight + p.logX, top: 6, width: 16, height: 17, border: "1px solid #c8c8c8", background: "#fff", fontSize: 9, color: "#aaa", textAlign: "center", lineHeight: "12px", fontFamily: FONT, boxSizing: "border-box" }}>
          Log
          <div style={{ borderTop: "1px dotted #bbb", margin: "0 2px" }} />
        </div>
        {/* Sin ordenes */}
        <div style={{ position: "absolute", left: p.sinX, top: plotBottom - 35, width: 55, height: 15, background: "#3f8fdd", color: "#0d1a33", fontSize: 10.5, lineHeight: "15px", textAlign: "center", fontFamily: FONT, whiteSpace: "nowrap", overflow: "hidden" }}>
          Sin órdenes
        </div>
        {p.febLabelX !== undefined && (
          <div style={{ position: "absolute", left: p.febLabelX, top: plotBottom + 3, fontSize: 12, color: "#333", fontFamily: FONT, whiteSpace: "nowrap" }}>01-Feb-21</div>
        )}
        {/* corner buttons */}
        <div style={{ position: "absolute", left: plotRight - 7, top: plotBottom + 1, width: p.canvasW - plotRight + 7, height: p.xAxisH - 1, background: "#f2f2f2" }}>
          <div style={{ position: "absolute", left: 1, top: 1, width: 15, height: 15, border: "1px solid #8fb3d9", background: "#fff", color: "#4a90d9", fontSize: 11, lineHeight: "14px", textAlign: "center", boxSizing: "border-box" }}>{"\u2248"}</div>
          <div style={{ position: "absolute", left: 20, top: 1, width: 30, height: 15, border: "1px solid #8aa0d0", background: p.active ? "#c9d6f5" : "#fff", boxSizing: "border-box" }}>
            <span style={{ position: "absolute", left: 3, top: -1, color: "#8a3fd0", fontWeight: 700, fontSize: 13, fontFamily: "DejaVu Sans" }}>H</span>
            <span style={{ position: "absolute", left: 17, top: 0, color: "#444", fontSize: 10 }}>{"\u2290"}</span>
          </div>
          <div style={{ position: "absolute", left: 55, top: 1, width: 15, height: 15, background: "#000", border: "1px solid #888", boxSizing: "border-box" }} />
        </div>
      </div>
      {/* scrollbar */}
      {p.scroll && (
        <div style={{ position: "absolute", left: 0, top: chartTop + p.canvasH, width: p.width, height: 14, background: "#f0f0f0", borderTop: "1px solid #e2e2e2" }}>
          <div style={{ position: "absolute", left: 3, top: -1, fontSize: 12, color: "#555" }}>{"\u2039"}</div>
          <div style={{ position: "absolute", left: p.width - 52, top: 1, width: 34, height: 12, background: "#cdcdcd" }} />
          <div style={{ position: "absolute", left: p.width - 12, top: -1, fontSize: 12, color: "#555" }}>{"\u203A"}</div>
        </div>
      )}
    </div>
  );
}

export default function App() {
  return (
    <div style={{ position: "relative", width: 1706, height: 876, background: "#e4e4e4", overflow: "hidden", fontFamily: FONT }}>
      <style>{`body{margin:0;}`}</style>
      {panels.map((p) => (
        <Panel key={p.key} p={p} />
      ))}
    </div>
  );
}
